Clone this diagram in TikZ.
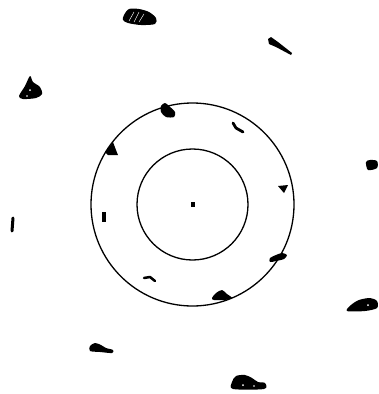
\documentclass[tikz,border=0pt]{standalone}
\begin{document}
\begin{tikzpicture}[x=1pt,y=-1pt,
  ring/.style={draw=black,line width=1.3pt},
  blob/.style={fill=black},
  stroke/.style={draw=black,line cap=round,line join=round},
  hatch/.style={draw=white,line width=0.45pt}]
\useasboundingbox (0,0) rectangle (378,394);
\fill[white] (0,0) rectangle (378,394);
% rings
\coordinate (c) at (192.5,204.5);
\draw[ring] (c) circle[radius=101.5];
\draw[ring] (c) circle[radius=55.5];
% centre dot
\fill[blob] (191,202) rectangle (195,207);
% top blob
\fill[blob] plot[smooth cycle] coordinates {(124,15) (129,9) (139,9) (149,12) (156,18) (155,24) (141,25) (128,23) (123,20)};
\draw[hatch] (129,21) -- (134,12);
\draw[hatch] (134,22) -- (139,12);
\draw[hatch] (139,22) -- (144,14);
% left teardrop
\fill[blob] plot[smooth cycle] coordinates {(30,76) (33,82) (40,87) (42,94) (36,98) (23,99) (19,96) (25,86)};
\fill[white] (30,90) circle[radius=1];
\fill[white] (27,96) circle[radius=0.9];
% blob on outer ring top
\fill[blob] plot[smooth cycle] coordinates {(161,106) (165,103) (169,106) (175,112) (174,117) (166,117) (161,112)};
% triangle on outer ring left
\fill[blob] (113,142) -- (116,150) -- (118,155) -- (108,155) -- (105,152) -- (110,146) -- cycle;
% tapered dash top right
\fill[blob] (268,39) -- (271,37) -- (278,42) -- (292,53) -- (291,55) -- (276,47) -- (269,44) -- cycle;
% dash between rings upper right
\draw[stroke,line width=2.8pt] (233,123) -- (236,128) -- (243,132);
% right blob
\fill[blob] plot[smooth cycle] coordinates {(366,162) (370,160) (377,161) (377,168) (368,170)};
% small triangle near outer ring right
\fill[blob] (278,186) -- (288,185) -- (284,193) -- cycle;
% left small vertical
\draw[stroke,line width=3pt] (13,218) -- (12,231);
% small between rings left
\fill[blob] (102,212) rectangle (106,222);
% dash between rings lower left
\draw[stroke,line width=2.5pt] (144,278) -- (150,277) -- (155,281);
% lower-left blob
\fill[blob] plot[smooth cycle] coordinates {(90,346) (95,343) (101,345) (106,348) (113,350) (112,353) (100,352) (90,351)};
% blob on outer ring lower right
\fill[blob] plot[smooth cycle] coordinates {(270,258) (276,255) (282,253) (287,255) (284,259) (276,261) (270,262)};
% blob on outer ring bottom
\fill[blob] plot[smooth cycle] coordinates {(212,298) (216,293) (222,290) (227,294) (232,298) (225,300) (214,300)};
% right lower blob
\fill[blob] plot[smooth cycle] coordinates {(347,311) (351,305) (359,300) (370,298) (377,301) (377,308) (365,311)};
\fill[white] (368,305) circle[radius=1];
% bottom blob
\fill[blob] plot[smooth cycle] coordinates {(232,382) (236,376) (245,375) (252,378) (258,382) (265,383) (264,389) (233,389)};
\fill[white] (243,385) circle[radius=1];
\fill[white] (254,386) circle[radius=0.9];
\end{tikzpicture}
\end{document}
